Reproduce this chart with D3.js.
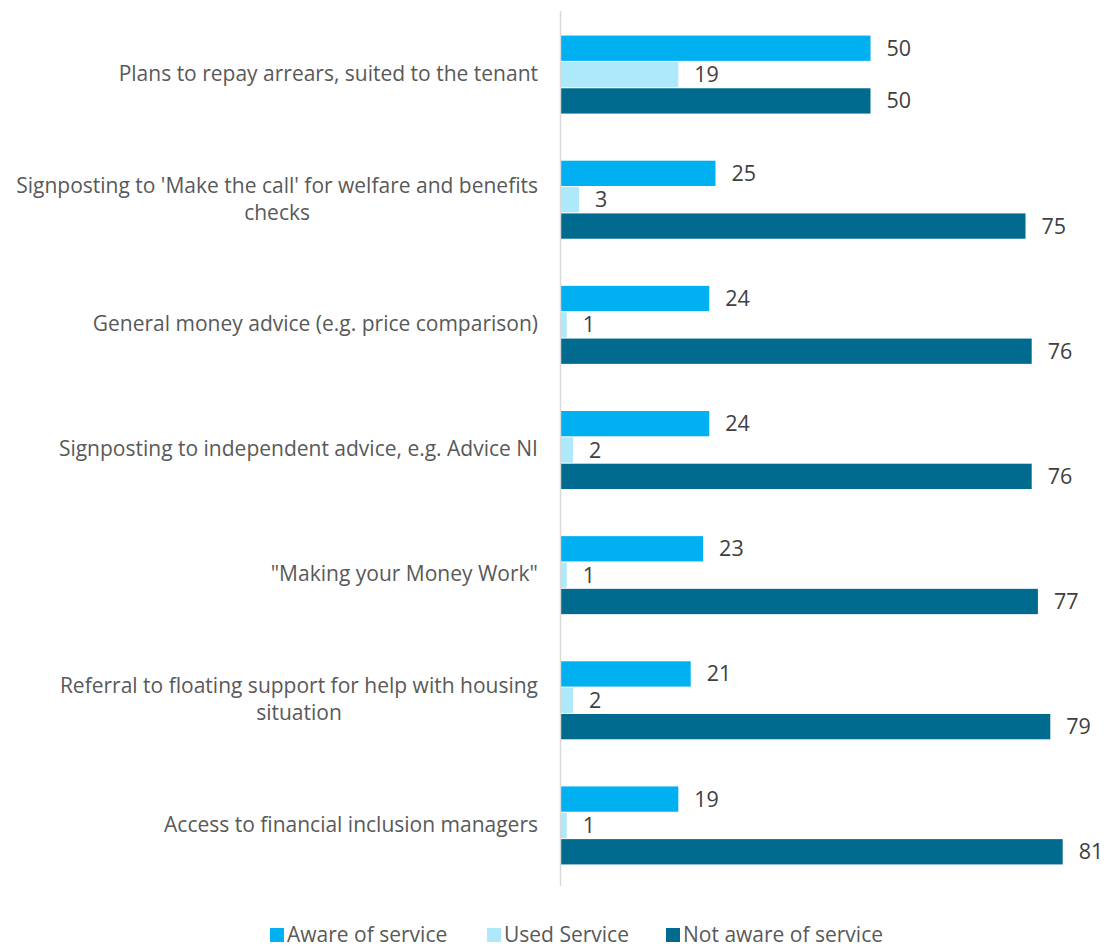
<!DOCTYPE html>
<html>
<head>
<meta charset="utf-8">
<script src="https://cdn.jsdelivr.net/npm/d3@7"></script>
<style>
  html, body { margin: 0; padding: 0; background: #ffffff; }
  svg { display: block; }
  text { font-family: "Open Sans", "Noto Sans", sans-serif; }
</style>
</head>
<body>
<svg id="chart" width="1107" height="949"></svg>
<script>
// Service categories (top to bottom); "\n" marks a line break in the label
const categories = [
  "Plans to repay arrears, suited to the tenant",
  "Signposting to 'Make the call' for welfare and benefits\nchecks",
  "General money advice (e.g. price comparison)",
  "Signposting to independent advice, e.g. Advice NI",
  "\"Making your Money Work\"",
  "Referral to floating support for help with housing\nsituation",
  "Access to financial inclusion managers"
];

const seriesNames = ["Aware of service", "Used Service", "Not aware of service"];
const aware    = [50, 25, 24, 24, 23, 21, 19];
const used     = [19, 3, 1, 2, 1, 2, 1];
const notAware = [50, 75, 76, 76, 77, 79, 81];
const seriesColors = ["#00b0f0", "#aee8fb", "#016a8f"];

const seriesValues = [aware, used, notAware];

const svg = d3.select("#chart");

const axisX = 560.5;
const x = d3.scaleLinear().domain([0, 100]).range([axisX, axisX + 620]);

const y = d3.scaleBand().domain(categories).range([11, 887]).paddingInner(0).paddingOuter(0);

// three stacked bars per category, centred in each band
const groupH = 78;
const ySub = d3.scaleBand().domain(seriesNames).range([0, groupH]).paddingInner(0.04);

const rows = categories.map((c, i) => ({ cat: c, i }));

const groups = svg.append("g").selectAll("g")
  .data(rows)
  .join("g")
  .attr("transform", d => `translate(0,${y(d.cat) + (y.bandwidth() - groupH) / 2 + 1})`);

seriesNames.forEach((s, k) => {
  groups.append("rect")
    .attr("x", x(0))
    .attr("y", ySub(s))
    .attr("width", d => x(seriesValues[k][d.i]) - x(0))
    .attr("height", ySub.bandwidth())
    .attr("fill", seriesColors[k]);

  groups.append("text")
    .attr("x", d => x(seriesValues[k][d.i]) + 16)
    .attr("y", ySub(s) + ySub.bandwidth() / 2)
    .attr("dy", "0.35em")
    .attr("font-size", 21.5)
    .attr("fill", "#404040")
    .text(d => seriesValues[k][d.i]);
});

// vertical category axis line
svg.append("line")
  .attr("x1", axisX).attr("x2", axisX)
  .attr("y1", 11).attr("y2", 886)
  .attr("stroke", "#d9d9d9").attr("stroke-width", 1.5);

// category labels, right-aligned against the axis
const lineH = 27;
svg.append("g").selectAll("text")
  .data(rows)
  .join("text")
  .attr("class", "cat-label")
  .attr("text-anchor", "middle")
  .attr("font-size", 21)
  .attr("fill", "#595959")
  .each(function (d) {
    const lines = d.cat.split("\n");
    const t = d3.select(this);
    const cy = y(d.cat) + y.bandwidth() / 2;
    const top = cy - (lines.length - 1) * lineH / 2;
    lines.forEach((ln, j) => {
      t.append("tspan")
        .attr("y", top + j * lineH)
        .attr("dy", "0.35em")
        .text(ln);
    });
  });

// position multi-line labels as centred blocks whose right edge sits at the axis
svg.selectAll("text.cat-label").each(function () {
  const t = d3.select(this);
  const widths = [];
  t.selectAll("tspan").each(function () { widths.push(this.getComputedTextLength()); });
  const maxW = d3.max(widths);
  t.selectAll("tspan").attr("x", 538 - maxW / 2);
});

// legend: swatch followed by series name
const legendItems = [
  { name: seriesNames[0], x: 287 },
  { name: seriesNames[1], x: 504 },
  { name: seriesNames[2], x: 683 }
];
const lg = svg.append("g").selectAll("g")
  .data(legendItems)
  .join("g")
  .attr("transform", d => `translate(${d.x},942)`);
lg.append("rect")
  .attr("x", -17).attr("y", -14)
  .attr("width", 14).attr("height", 14)
  .attr("fill", (d, i) => seriesColors[i]);
lg.append("text")
  .attr("x", 0).attr("y", 0)
  .attr("font-size", 21)
  .attr("fill", "#595959")
  .text(d => d.name);
</script>
</body>
</html>
